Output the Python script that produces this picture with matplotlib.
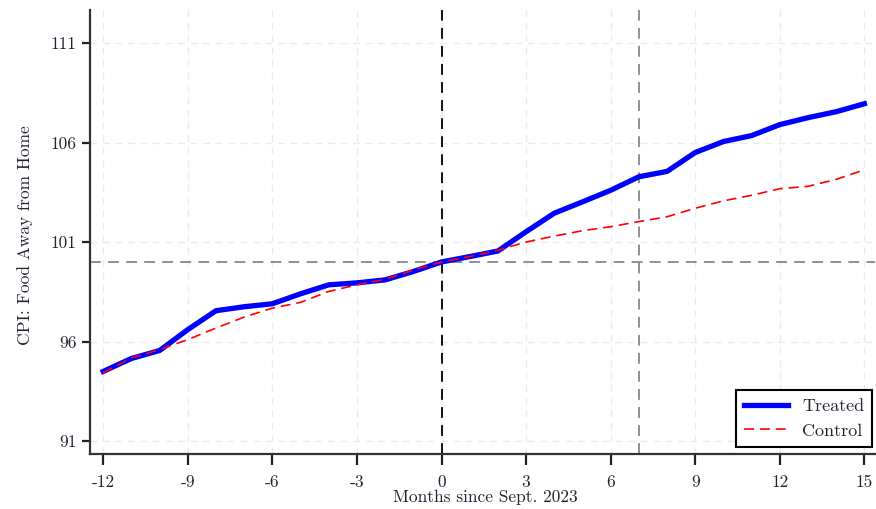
import numpy as np
import matplotlib
matplotlib.use("Agg")
import matplotlib.pyplot as plt

plt.rcParams["font.family"] = "serif"
plt.rcParams["font.serif"] = ["cmr10"]
plt.rcParams["mathtext.fontset"] = "cm"
plt.rcParams["axes.unicode_minus"] = False

# Months relative to Sept. 2023
months = list(range(-12, 16))

# CPI: food away from home, normalised to 100 at month 0
treated = [94.5, 95.15, 95.55, 96.6, 97.55, 97.75, 97.9, 98.4, 98.85, 98.95, 99.1, 99.52,
           100.0, 100.27, 100.55, 101.52, 102.45, 103.02, 103.6, 104.28, 104.55, 105.5,
           106.05, 106.35, 106.9, 107.25, 107.55, 107.95]
control = [94.43, 95.18, 95.6, 96.1, 96.68, 97.23, 97.68, 97.97, 98.52, 98.85, 99.13, 99.6,
           100.0, 100.27, 100.6, 101.0, 101.3, 101.57, 101.77, 102.03, 102.27, 102.7,
           103.07, 103.35, 103.68, 103.8, 104.15, 104.63]

xticks = list(range(-12, 16, 3))
xtick_labels = ["-12", "-9", "-6", "-3", "0", "3", "6", "9", "12", "15"]
yticks = [91, 96, 101, 106, 111]

text_color = "#222233"

fig = plt.figure(figsize=(8.76, 5.09), dpi=100)
ax = fig.add_axes([0.103, 0.108, 0.896, 0.872])

ax.set_xlim(-12.46, 15.38)
ax.set_ylim(90.35, 112.65)

ax.set_xticks(xticks)
ax.set_xticklabels(xtick_labels)
ax.set_yticks(yticks)
ax.set_yticklabels([str(v) for v in yticks])

ax.grid(True, color="#ebebeb", linestyle=(0, (5, 4)), linewidth=1.0)
ax.set_axisbelow(True)

# reference lines
ax.axhline(100, color="#888888", linestyle=(0, (6, 4)), linewidth=1.3, zorder=1)
ax.axvline(0, color="black", linestyle=(0, (6, 4)), linewidth=1.3, zorder=1)
ax.axvline(7, color="#888888", linestyle=(0, (6, 4)), linewidth=1.3, zorder=1)

ax.plot(months, treated, color="blue", linewidth=3.8, label="Treated", zorder=3)
ax.plot(months, control, color="red", linestyle=(0, (6, 3.5)), linewidth=1.2,
        label="Control", zorder=4)

for side in ["top", "right"]:
    ax.spines[side].set_visible(False)
for side in ["left", "bottom"]:
    ax.spines[side].set_linewidth(1.6)
    ax.spines[side].set_color("#333333")

ax.tick_params(axis="both", direction="out", width=1.6, color="#222222",
               labelsize=12.5, labelcolor=text_color)
ax.tick_params(axis="y", length=6, pad=4)
ax.tick_params(axis="x", length=8, pad=7)

ax.set_xlabel("Months since Sept. 2023", fontsize=12.5, color=text_color)
ax.xaxis.set_label_coords(0.503, -0.097)
ax.xaxis.label.set_va("center")
ax.set_ylabel("CPI: Food Away from Home", fontsize=12.5, color=text_color)
ax.yaxis.set_label_coords(-0.083, 0.493)
ax.yaxis.label.set_va("center")

leg = ax.legend(loc="lower right", fontsize=13, frameon=True, fancybox=False,
                edgecolor="black", framealpha=1, borderpad=0.45, handlelength=2.4,
                handletextpad=0.8, labelspacing=0.5, borderaxespad=0.0,
                bbox_to_anchor=(0.9965, 0.016))
leg.get_frame().set_linewidth(1.5)
for t in leg.get_texts():
    t.set_color(text_color)

plt.savefig("out.png", dpi=100)
plt.close()
